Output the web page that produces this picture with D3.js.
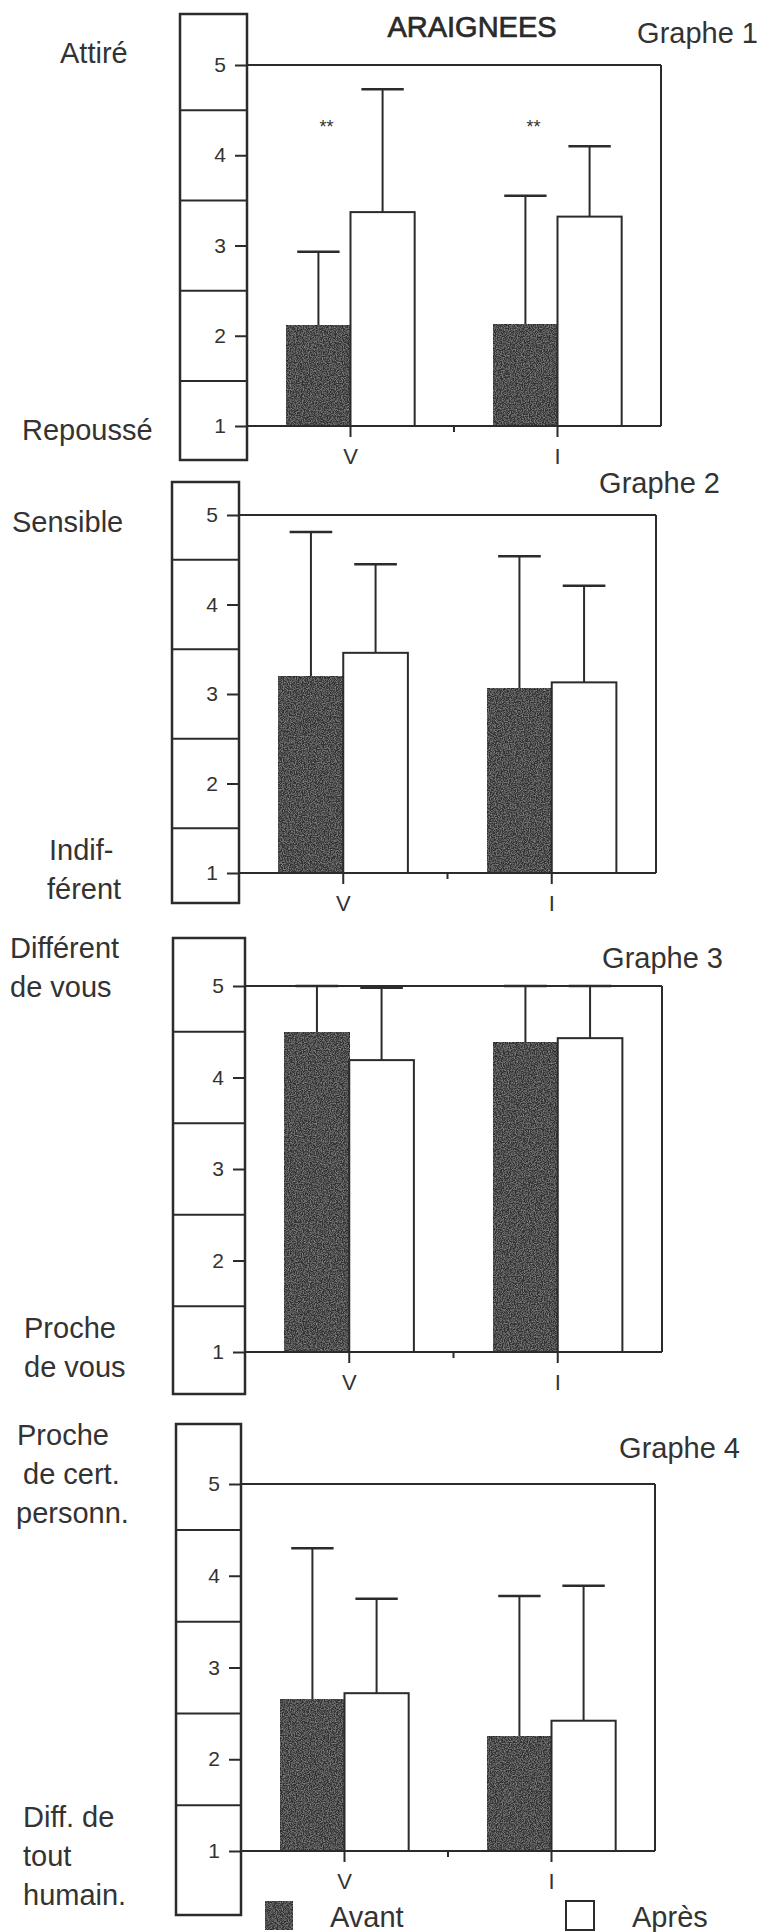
<!DOCTYPE html>
<html>
<head>
<meta charset="utf-8">
<script src="https://cdn.jsdelivr.net/npm/d3@7"></script>
<style>
  body { margin: 0; background: #fff; }
  svg { display: block; }
  text { font-family: "Liberation Sans", Arial, sans-serif; fill: #333; }
</style>
</head>
<body>
<div id="chart"></div>
<script>
// data
const title = "ARAIGNEES"
const categories = ["V", "I"]
const series = ["Avant", "Après"]
const graphNames = ["Graphe 1", "Graphe 2", "Graphe 3", "Graphe 4"]
const yTicks = [1, 2, 3, 4, 5]

const avantMean = [[2.11, 2.13], [3.19, 3.06], [4.49, 4.38], [2.65, 2.25]]
const avantSd   = [[0.82, 1.42], [1.62, 1.48], [0.51, 0.62], [1.65, 1.53]]
const apresMean = [[3.37, 3.32], [3.46, 3.13], [4.19, 4.43], [2.72, 2.42]]
const apresSd   = [[1.36, 0.78], [0.99, 1.08], [0.79, 0.57], [1.03, 1.47]]
const signif    = [["**", "**"], ["", ""], ["", ""], ["", ""]]
const signifLevel = 4.25

const topLabels = [["Attiré"], ["Sensible"], ["Différent", "de vous"], ["Proche", "de cert.", "personn."]]
const bottomLabels = [["Repoussé"], ["Indif-", "férent"], ["Proche", "de vous"], ["Diff. de", "tout", "humain."]]

// panel geometry (pixels)
const panels = [
    {axisX: 247, rightX: 661, y5: 65,   y1: 426,  boxL: 180, boxT: 14,   boxB: 460,
     nameX: 758, nameY: 43,   topX: [60], topY: 63, botX: [22], botY: 440},
    {axisX: 239, rightX: 656, y5: 515,  y1: 873,  boxL: 172, boxT: 482,  boxB: 903,
     nameX: 720, nameY: 493,  topX: [12], topY: 532, botX: [49, 47], botY: 860},
    {axisX: 245, rightX: 662, y5: 986,  y1: 1352, boxL: 173, boxT: 938,  boxB: 1394,
     nameX: 723, nameY: 968,  topX: [10, 10], topY: 958, botX: [24, 24], botY: 1338},
    {axisX: 241, rightX: 655, y5: 1484, y1: 1851, boxL: 176, boxT: 1424, boxB: 1915,
     nameX: 740, nameY: 1458, topX: [17, 23, 16], topY: 1445, botX: [23, 23, 23], botY: 1827}
]
const lineGap = 39
const ink = "#2b2b2b"
const dark = "#323232"

const width = 764, height = 1932
const svg = d3.select("#chart").append("svg")
    .attr("width", width)
    .attr("height", height)

svg.append("rect").attr("width", width).attr("height", height).attr("fill", "#fff")

// grainy texture for the dark bars
const defs = svg.append("defs")
const f = defs.append("filter").attr("id", "grain")
    .attr("x", 0).attr("y", 0).attr("width", 1).attr("height", 1)
f.append("feTurbulence").attr("type", "fractalNoise").attr("baseFrequency", 0.85)
    .attr("numOctaves", 2).attr("seed", 4).attr("result", "noise")
f.append("feColorMatrix").attr("in", "noise").attr("type", "matrix")
    .attr("values", "0.5 0 0 0 -0.2  0.5 0 0 0 -0.2  0.5 0 0 0 -0.2  0 0 0 0 1")
    .attr("result", "gray")
f.append("feComposite").attr("in", "gray").attr("in2", "SourceGraphic")
    .attr("operator", "in").attr("result", "speck")
f.append("feBlend").attr("in", "speck").attr("in2", "SourceGraphic").attr("mode", "screen")

svg.append("text")
    .attr("x", 472).attr("y", 37)
    .attr("text-anchor", "middle")
    .attr("font-size", 29)
    .style("fill", "#2a2a2a")
    .style("stroke", "#2a2a2a")
    .style("stroke-width", 0.7)
    .text(title)

panels.forEach((p, gi) => {
    const g = svg.append("g")

    const y = d3.scaleLinear().domain([1, 5]).range([p.y1, p.y5])
    const x = d3.scaleBand().domain(categories).range([p.axisX, p.rightX]).padding(0)
    const bw = x.bandwidth()
    const barW = bw * 0.31
    const capW = barW * 0.66

    // left scale box
    g.append("rect")
        .attr("x", p.boxL).attr("y", p.boxT)
        .attr("width", p.axisX - p.boxL).attr("height", p.boxB - p.boxT)
        .attr("fill", "none").attr("stroke", ink).attr("stroke-width", 2.5)
    g.selectAll(".div").data(yTicks.slice(1).map(v => v - 0.5)).enter()
        .append("line")
        .attr("x1", p.boxL).attr("x2", p.axisX)
        .attr("y1", d => y(d)).attr("y2", d => y(d))
        .attr("stroke", ink).attr("stroke-width", 2)

    // bars
    const rows = categories.map((c, i) => ({
        cat: c,
        vals: [
            {s: series[0], m: avantMean[gi][i], sd: avantSd[gi][i]},
            {s: series[1], m: apresMean[gi][i], sd: apresSd[gi][i]}
        ]
    }))
    rows.forEach(r => {
        const cx = x(r.cat) + bw / 2
        r.vals.forEach((v, k) => {
            const bx = k === 0 ? cx - barW : cx
            const mid = bx + barW / 2
            // error bar
            g.append("line")
                .attr("x1", mid).attr("x2", mid)
                .attr("y1", y(v.m)).attr("y2", y(v.m + v.sd))
                .attr("stroke", ink).attr("stroke-width", 2)
            g.append("line")
                .attr("x1", mid - capW / 2).attr("x2", mid + capW / 2)
                .attr("y1", y(v.m + v.sd)).attr("y2", y(v.m + v.sd))
                .attr("stroke", ink).attr("stroke-width", 2.5)
            g.append("rect")
                .attr("x", bx).attr("y", y(v.m))
                .attr("width", barW).attr("height", y(1) - y(v.m))
                .attr("fill", k === 0 ? dark : "#fff")
                .attr("filter", k === 0 ? "url(#grain)" : null)
                .attr("stroke", ink).attr("stroke-width", 2)
        })
    })

    // significance marks
    g.selectAll(".sig").data(categories).enter()
        .append("text")
        .attr("x", d => x(d) + bw / 2 - barW / 2 + 8)
        .attr("y", y(signifLevel))
        .attr("text-anchor", "middle")
        .attr("font-size", 18)
        .text((d, i) => signif[gi][i])

    // frame
    g.append("line").attr("x1", p.axisX).attr("x2", p.rightX)
        .attr("y1", y(5)).attr("y2", y(5)).attr("stroke", ink).attr("stroke-width", 2)
    g.append("line").attr("x1", p.rightX).attr("x2", p.rightX)
        .attr("y1", y(5)).attr("y2", y(1)).attr("stroke", ink).attr("stroke-width", 2)
    g.append("line").attr("x1", p.axisX).attr("x2", p.rightX)
        .attr("y1", y(1)).attr("y2", y(1)).attr("stroke", ink).attr("stroke-width", 2)

    // y axis ticks and labels
    const ya = g.append("g")
        .attr("transform", `translate(${p.axisX},0)`)
        .call(d3.axisLeft(y).tickValues(yTicks).tickFormat(d3.format("d")).tickSize(12).tickPadding(9))
    ya.select(".domain").remove()
    ya.selectAll("line").attr("stroke", ink).attr("stroke-width", 2)
    ya.selectAll("text").attr("font-size", 21).style("font-family", "'Liberation Sans', Arial, sans-serif")

    // x axis ticks and labels
    const xa = g.append("g")
        .attr("transform", `translate(0,${y(1)})`)
        .call(d3.axisBottom(x).tickSize(11).tickPadding(11))
    xa.select(".domain").remove()
    xa.selectAll("line").attr("stroke", ink).attr("stroke-width", 2)
    xa.selectAll("text").attr("font-size", 22).style("font-family", "'Liberation Sans', Arial, sans-serif")
    g.append("line")
        .attr("x1", x(categories[1])).attr("x2", x(categories[1]))
        .attr("y1", y(1)).attr("y2", y(1) + 6)
        .attr("stroke", ink).attr("stroke-width", 2)

    // graph name
    g.append("text")
        .attr("x", p.nameX).attr("y", p.nameY)
        .attr("text-anchor", "end")
        .attr("font-size", 29)
        .text(graphNames[gi])

    // scale end labels
    topLabels[gi].forEach((t, li) => {
        g.append("text").attr("x", p.topX[li]).attr("y", p.topY + li * lineGap)
            .attr("font-size", 29).text(t)
    })
    bottomLabels[gi].forEach((t, li) => {
        g.append("text").attr("x", p.botX[li]).attr("y", p.botY + li * lineGap)
            .attr("font-size", 29).text(t)
    })
})

// legend
const legend = svg.append("g")
const legendX = [265, 566]
const legendTextX = [330, 632]
series.forEach((s, i) => {
    legend.append("rect")
        .attr("x", legendX[i]).attr("y", 1901)
        .attr("width", 28).attr("height", 29)
        .attr("fill", i === 0 ? dark : "#fff")
        .attr("filter", i === 0 ? "url(#grain)" : null)
        .attr("stroke", ink).attr("stroke-width", 2)
    legend.append("text")
        .attr("x", legendTextX[i]).attr("y", 1927)
        .attr("font-size", 29)
        .text(s)
})
</script>
</body>
</html>
